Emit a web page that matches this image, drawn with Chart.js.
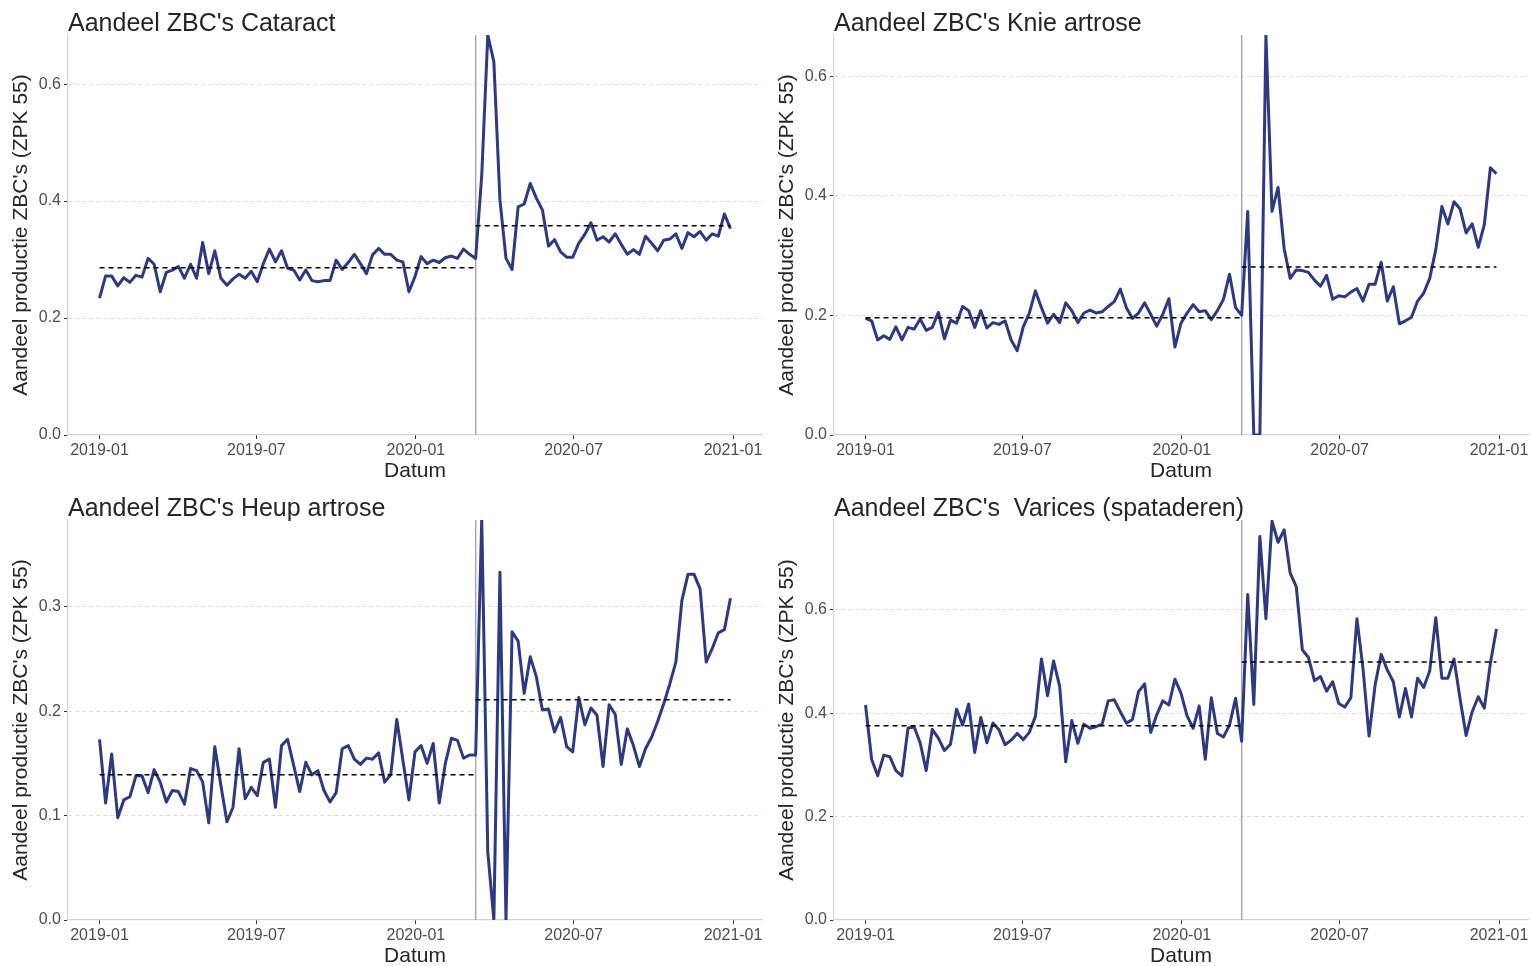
<!DOCTYPE html>
<html>
<head>
<meta charset="utf-8">
<script src="https://cdn.jsdelivr.net/npm/chart.js@4/dist/chart.umd.min.js"></script>
<style>
  html, body { margin: 0; padding: 0; background: #fff; overflow: hidden; }
  canvas { position: absolute; }
</style>
</head>
<body>
<canvas id="c1" width="766" height="483" style="left:0;top:0"></canvas>
<canvas id="c2" width="766" height="483" style="left:766px;top:0"></canvas>
<canvas id="c3" width="766" height="483" style="left:0;top:485px"></canvas>
<canvas id="c4" width="766" height="483" style="left:766px;top:485px"></canvas>
<script>
// weekly observations, days since 2019-01-01
const weekDays = Array.from({ length: 105 }, (_, i) => i * 7);
const interventionDay = 434; // 2020-03-10

const xTickDays = [0, 181, 365, 547, 731];
const xTickLabels = ['2019-01', '2019-07', '2020-01', '2020-07', '2021-01'];

const cataract = [
  0.234, 0.272, 0.272, 0.255, 0.269, 0.261, 0.273, 0.270, 0.302, 0.292,
  0.245, 0.278, 0.282, 0.288, 0.268, 0.292, 0.268, 0.329, 0.276, 0.315,
  0.268, 0.256, 0.267, 0.275, 0.268, 0.280, 0.262, 0.293, 0.318, 0.296,
  0.315, 0.285, 0.282, 0.265, 0.282, 0.264, 0.262, 0.264, 0.264, 0.299,
  0.283, 0.295, 0.309, 0.293, 0.276, 0.308, 0.319, 0.309, 0.309, 0.299,
  0.296, 0.245, 0.271, 0.305, 0.293, 0.299, 0.295, 0.303, 0.306, 0.302,
  0.318, 0.309, 0.302, 0.444, 0.684, 0.638, 0.402, 0.302, 0.283, 0.390,
  0.395, 0.430, 0.405, 0.385, 0.323, 0.334, 0.313, 0.304, 0.304, 0.328,
  0.343, 0.363, 0.333, 0.339, 0.330, 0.344, 0.326, 0.309, 0.317, 0.309,
  0.340, 0.328, 0.315, 0.333, 0.335, 0.344, 0.319, 0.346, 0.339, 0.348,
  0.333, 0.344, 0.340, 0.378, 0.353
];
const knie = [
  0.195, 0.191, 0.159, 0.166, 0.160, 0.181, 0.159, 0.180, 0.177, 0.194,
  0.175, 0.180, 0.205, 0.161, 0.192, 0.187, 0.215, 0.208, 0.180, 0.208,
  0.179, 0.188, 0.185, 0.191, 0.159, 0.141, 0.181, 0.204, 0.241, 0.213,
  0.187, 0.202, 0.188, 0.221, 0.208, 0.188, 0.204, 0.209, 0.204, 0.206,
  0.215, 0.223, 0.244, 0.213, 0.195, 0.204, 0.221, 0.202, 0.182, 0.202,
  0.228, 0.147, 0.187, 0.204, 0.218, 0.206, 0.208, 0.193, 0.208, 0.227,
  0.269, 0.213, 0.200, 0.374, 0.000, 0.000, 0.669, 0.374, 0.414, 0.312,
  0.262, 0.276, 0.275, 0.272, 0.259, 0.249, 0.267, 0.227, 0.233, 0.231,
  0.239, 0.245, 0.224, 0.252, 0.252, 0.289, 0.224, 0.248, 0.186, 0.191,
  0.197, 0.224, 0.237, 0.262, 0.310, 0.382, 0.353, 0.390, 0.378, 0.338,
  0.353, 0.314, 0.352, 0.447, 0.437
];
const heup = [
  0.173, 0.112, 0.159, 0.098, 0.115, 0.118, 0.138, 0.138, 0.122, 0.144,
  0.132, 0.113, 0.124, 0.123, 0.111, 0.145, 0.143, 0.132, 0.093, 0.166,
  0.129, 0.094, 0.108, 0.164, 0.116, 0.127, 0.119, 0.151, 0.154, 0.108,
  0.167, 0.173, 0.148, 0.123, 0.151, 0.139, 0.143, 0.124, 0.113, 0.122,
  0.164, 0.167, 0.154, 0.149, 0.155, 0.154, 0.160, 0.132, 0.139, 0.192,
  0.153, 0.115, 0.161, 0.167, 0.150, 0.169, 0.112, 0.150, 0.174, 0.172,
  0.155, 0.158, 0.158, 0.383, 0.065, 0.000, 0.333, 0.000, 0.276, 0.267,
  0.217, 0.252, 0.233, 0.201, 0.202, 0.180, 0.194, 0.166, 0.161, 0.213,
  0.187, 0.203, 0.196, 0.147, 0.206, 0.197, 0.149, 0.183, 0.167, 0.147,
  0.164, 0.175, 0.190, 0.207, 0.226, 0.247, 0.306, 0.331, 0.331, 0.317,
  0.247, 0.260, 0.275, 0.278, 0.308
];
const varices = [
  0.416, 0.311, 0.279, 0.319, 0.316, 0.289, 0.279, 0.371, 0.374, 0.343,
  0.289, 0.369, 0.352, 0.328, 0.340, 0.408, 0.377, 0.418, 0.324, 0.392,
  0.343, 0.381, 0.368, 0.339, 0.348, 0.361, 0.349, 0.363, 0.394, 0.505,
  0.434, 0.501, 0.452, 0.306, 0.386, 0.342, 0.379, 0.371, 0.374, 0.379,
  0.424, 0.426, 0.403, 0.381, 0.388, 0.442, 0.457, 0.363, 0.397, 0.424,
  0.416, 0.466, 0.439, 0.395, 0.371, 0.414, 0.311, 0.430, 0.361, 0.354,
  0.377, 0.429, 0.346, 0.630, 0.417, 0.742, 0.583, 0.772, 0.731, 0.755,
  0.671, 0.645, 0.523, 0.508, 0.463, 0.471, 0.443, 0.461, 0.419, 0.412,
  0.430, 0.583, 0.487, 0.356, 0.455, 0.514, 0.484, 0.461, 0.393, 0.448,
  0.393, 0.468, 0.450, 0.482, 0.585, 0.468, 0.468, 0.505, 0.428, 0.357,
  0.403, 0.432, 0.410, 0.497, 0.563
];

// mean before / after the intervention (dashed lines)
const cataractMeans = [0.286, 0.358];
const knieMeans = [0.196, 0.281];
const heupMeans = [0.139, 0.211];
const varicesMeans = [0.376, 0.499];

const yTicksA = [0, 0.2, 0.4, 0.6];
const yTicksHeup = [0, 0.1, 0.2, 0.3];

const FONT = "'Liberation Sans', Arial, Helvetica, sans-serif";
Chart.defaults.font.family = FONT;

function makeChart(id, title, values, means, yMax, yTicks) {
  const lastDay = weekDays[weekDays.length - 1];
  new Chart(document.getElementById(id), {
    type: 'line',
    data: {
      datasets: [
        {
          data: [{ x: interventionDay, y: 0 }, { x: interventionDay, y: yMax }],
          borderColor: '#a9a9a9', borderWidth: 1.5, pointRadius: 0, order: 3
        },
        {
          data: values.map((v, i) => ({ x: weekDays[i], y: v })),
          borderColor: '#2c3a84', borderWidth: 3, pointRadius: 0,
          tension: 0, borderJoinStyle: 'round', order: 2
        },
        {
          data: [{ x: 0, y: means[0] }, { x: interventionDay, y: means[0] }],
          borderColor: '#000', borderWidth: 1.5, borderDash: [5, 4], pointRadius: 0, order: 1
        },
        {
          data: [{ x: interventionDay, y: means[1] }, { x: lastDay, y: means[1] }],
          borderColor: '#000', borderWidth: 1.5, borderDash: [5, 4], pointRadius: 0, order: 1
        }
      ]
    },
    options: {
      responsive: false,
      animation: false,
      events: [],
      layout: { padding: { left: 0, right: 4, top: 0, bottom: 0 } },
      plugins: {
        legend: { display: false },
        tooltip: { enabled: false },
        title: {
          display: true, text: title, align: 'start', fullSize: false,
          color: '#262626',
          font: { size: 25, weight: 'normal', lineHeight: 1 },
          padding: { top: 12, bottom: -2 }
        }
      },
      scales: {
        x: {
          type: 'linear', min: -36.4, max: 764.4,
          afterBuildTicks: s => { s.ticks = xTickDays.map(v => ({ value: v })); },
          afterFit: s => { s.height = 48; s.paddingLeft = 0; s.paddingRight = 0; },
          ticks: {
            callback: v => xTickLabels[xTickDays.indexOf(v)],
            color: '#4d4d4d', font: { size: 16 }, padding: 2, maxRotation: 0, autoSkip: false
          },
          grid: { drawOnChartArea: false, drawTicks: true, tickLength: 4, tickColor: '#333', tickWidth: 1 },
          border: { display: true, color: '#d4d4d4', width: 1.2 },
          title: {
            display: true, text: 'Datum', color: '#262626',
            font: { size: 21, lineHeight: 1 }, padding: { top: 0, bottom: 1 }
          }
        },
        y: {
          min: 0, max: yMax,
          afterBuildTicks: s => { s.ticks = yTicks.map(v => ({ value: v })); },
          afterFit: s => { s.width = 68; },
          ticks: {
            callback: v => Number(v).toFixed(1),
            color: '#4d4d4d', font: { size: 16 }, padding: 3
          },
          grid: {
            color: c => (c.tick && c.tick.value === 0 ? 'rgba(0,0,0,0)' : '#dcdcdc'),
            lineWidth: 1, drawTicks: true, tickLength: 4, tickColor: '#333', tickWidth: 1
          },
          border: { display: true, color: '#d4d4d4', width: 1.2, dash: [4, 3] },
          title: {
            display: true, text: "Aandeel productie ZBC's (ZPK 55)", color: '#262626',
            font: { size: 21, lineHeight: 1.2 }, padding: { top: 8.5, bottom: 0 }
          }
        }
      }
    }
  });
}

makeChart('c1', "Aandeel ZBC's Cataract", cataract, cataractMeans, 0.684, yTicksA);
makeChart('c2', "Aandeel ZBC's Knie artrose", knie, knieMeans, 0.669, yTicksA);
makeChart('c3', "Aandeel ZBC's Heup artrose", heup, heupMeans, 0.383, yTicksHeup);
makeChart('c4', "Aandeel ZBC's  Varices (spataderen)", varices, varicesMeans, 0.774, yTicksA);
</script>
</body>
</html>
